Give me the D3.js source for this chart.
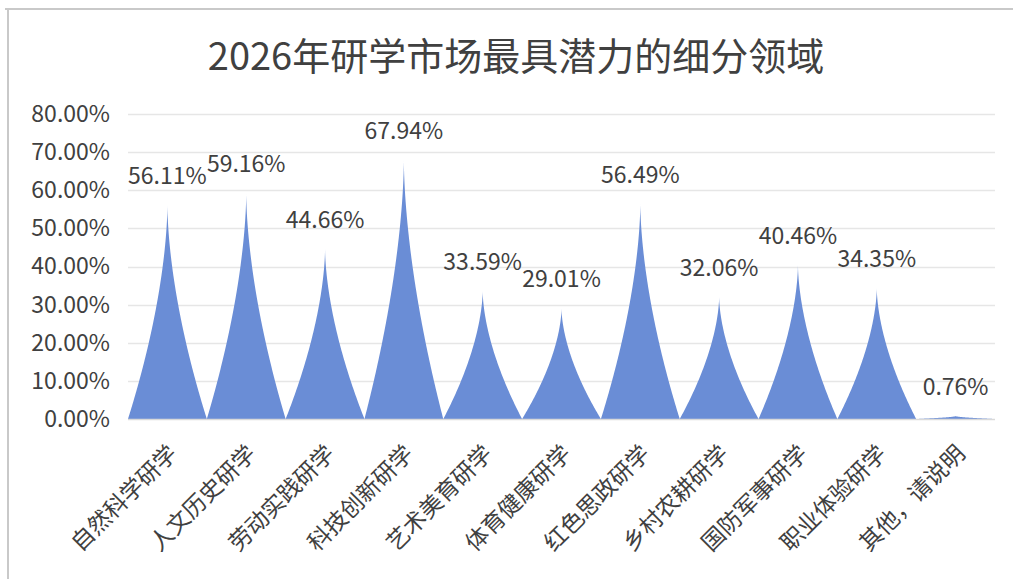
<!DOCTYPE html>
<html>
<head>
<meta charset="utf-8">
<script src="https://cdn.jsdelivr.net/npm/d3@7"></script>
<style>
  html, body { margin: 0; padding: 0; background: #fff; }
  svg { display: block; }
  text { font-family: "Noto Sans CJK SC", "Noto Sans", sans-serif; fill: #404040; }
</style>
</head>
<body>
<svg id="chart" width="1013" height="579"></svg>
<script>
const title = "2026年研学市场最具潜力的细分领域";
const categories = ["自然科学研学", "人文历史研学", "劳动实践研学", "科技创新研学", "艺术美育研学", "体育健康研学", "红色思政研学", "乡村农耕研学", "国防军事研学", "职业体验研学", "其他，请说明"];
const values = [56.11, 59.16, 44.66, 67.94, 33.59, 29.01, 56.49, 32.06, 40.46, 34.35, 0.76];
const yTicks = [0, 10, 20, 30, 40, 50, 60, 70, 80];

const W = 1013, H = 579;
const margin = { left: 128, right: 18, top: 114, bottom: 160 };
const svg = d3.select("#chart");

// frame lines (screenshot border)
svg.append("line").attr("x1", 5).attr("x2", W).attr("y1", 9).attr("y2", 9)
  .attr("stroke", "#c9c9c9").attr("stroke-width", 2);
svg.append("line").attr("x1", 8).attr("x2", 8).attr("y1", 9).attr("y2", H)
  .attr("stroke", "#c9c9c9").attr("stroke-width", 2);

const x = d3.scaleBand().domain(categories).range([margin.left, W - margin.right]).padding(0);
const y = d3.scaleLinear().domain([0, 80]).range([H - margin.bottom, margin.top]);

svg.append("text").attr("x", 516).attr("y", 70).attr("text-anchor", "middle")
  .style("font-size", "38px").text(title);

// gridlines
svg.append("g").selectAll("line").data(yTicks.filter(d => d > 0)).join("line")
  .attr("x1", margin.left).attr("x2", W - margin.right)
  .attr("y1", d => Math.round(y(d)) + 0.5).attr("y2", d => Math.round(y(d)) + 0.5)
  .attr("stroke", "#e6e6e6").attr("stroke-width", 1.5);

// y axis labels
const yAxis = d3.axisLeft(y).tickValues(yTicks).tickSize(0).tickPadding(0)
  .tickFormat(d => d.toFixed(2) + "%");
const gy = svg.append("g").attr("transform", `translate(110,0)`).call(yAxis);
gy.select(".domain").remove();
gy.selectAll("text").style("font-size", "23px").attr("fill", "#404040")
  .style("font-family", '"Noto Sans CJK SC", sans-serif');

// spikes: concave sides
const ts = d3.range(0, 1.0001, 0.01);
function spikePath(cat, v) {
  const x0 = x(cat), bw = x.bandwidth(), hw = bw / 2, cx = x0 + hw;
  const y0 = y(0), yt = y(v);
  const pts = [];
  ts.forEach(t => pts.push([cx - hw * Math.pow(1 - t, 1.7), y0 + (yt - y0) * t]));
  ts.slice().reverse().forEach(t => pts.push([cx + hw * Math.pow(1 - t, 1.7), y0 + (yt - y0) * t]));
  return d3.line()(pts) + "Z";
}
svg.append("g").selectAll("path").data(categories).join("path")
  .attr("d", (c, i) => spikePath(c, values[i]))
  .attr("fill", "#6a8dd6");

// baseline
svg.append("line").attr("x1", margin.left).attr("x2", W - margin.right)
  .attr("y1", y(0) + 0.5).attr("y2", y(0) + 0.5).attr("stroke", "#d9d9d9").attr("stroke-width", 1.5);

// data labels
svg.append("g").selectAll("text").data(categories).join("text")
  .attr("x", c => x(c) + x.bandwidth() / 2)
  .attr("y", (c, i) => y(values[i]) - 21)
  .attr("text-anchor", "middle").style("font-size", "23px")
  .text((c, i) => values[i].toFixed(2) + "%");

// category labels
svg.append("g").selectAll("text").data(categories).join("text")
  .attr("transform", c => `translate(${x(c) + x.bandwidth() / 2 + 11},${y(0) + 36}) rotate(-45)`)
  .attr("text-anchor", "end").style("font-size", "23px")
  .text(c => c);
</script>
</body>
</html>
